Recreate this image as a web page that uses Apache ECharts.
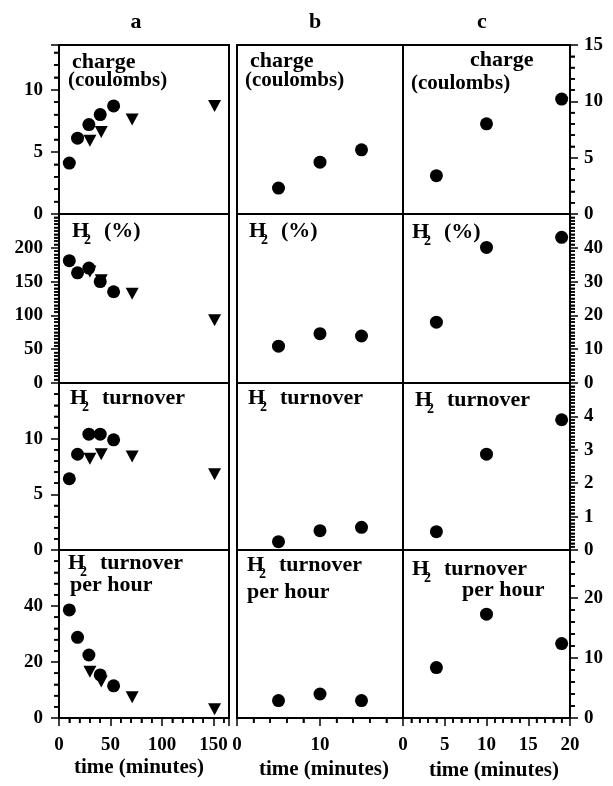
<!DOCTYPE html>
<html>
<head>
<meta charset="utf-8">
<script src="https://cdn.jsdelivr.net/npm/echarts@6/dist/echarts.min.js"></script>
<style>
  html, body { margin: 0; background: #fff; }
  #chart { width: 613px; height: 786px; }
</style>
</head>
<body>
<div id="chart"></div>
<script>
// times (minutes)
const timeACircle = [10, 18, 29, 40, 53];
const timeATriangle = [30, 41, 71, 151];
const timeB = [5, 10, 15];
const timeC = [4, 10, 19];

// column a
const chargeACircle = [4.1, 6.1, 7.2, 8.0, 8.7];
const chargeATriangle = [5.9, 6.6, 7.6, 8.7];
const h2PctACircle = [181, 163, 170, 150, 135];
const h2PctATriangle = [165, 152, 132, 93];
const turnoverACircle = [6.4, 8.6, 10.4, 10.4, 9.9];
const turnoverATriangle = [8.2, 8.6, 8.4, 6.8];
const perHourACircle = [38.6, 28.8, 22.5, 15.4, 11.5];
const perHourATriangle = [16.5, 13.0, 7.4, 3.1];

// column b
const chargeB = [2.3, 4.6, 5.7];
const h2PctB = [10.9, 14.6, 13.9];
const turnoverB = [0.25, 0.58, 0.68];
const perHourB = [2.9, 4.0, 2.9];

// column c
const chargeC = [3.4, 8.0, 10.2];
const h2PctC = [18, 40.1, 43.1];
const turnoverC = [0.55, 2.87, 3.9];
const perHourC = [8.4, 17.3, 12.4];

// axis ranges: y per row (a = left axis, c = right axis, b shares c), x per column
const yMaxA = [13.6, 250, 15, 60];
const yStepA = [5, 50, 5, 20];
const yMinorA = [5, 10, 5, 5];
const yMaxC = [15, 50, 5, 28];
const yStepC = [5, 10, 1, 10];
const yMinorC = [5, 10, 10, 5];
const xMax = [165, 20, 20];
const xStep = [50, 10, 5];
const xMinor = [5, 5, 5];
const colNames = ['a', 'b', 'c'];

const FONT = "'Liberation Serif', 'Times New Roman', serif";
const rowTop = [45, 214, 383, 550];
const rowBottom = 718;
const colLeft = [59, 237, 403];
const colRight = [229, 403, 570];

const chart = echarts.init(document.getElementById('chart'));

const grids = [];
const xAxes = [];
const yAxes = [];
const series = [];

function pts(xs, ys) {
  return xs.map((x, i) => [x, ys[i]]);
}

const circleData = [
  [pts(timeACircle, chargeACircle), pts(timeB, chargeB), pts(timeC, chargeC)],
  [pts(timeACircle, h2PctACircle), pts(timeB, h2PctB), pts(timeC, h2PctC)],
  [pts(timeACircle, turnoverACircle), pts(timeB, turnoverB), pts(timeC, turnoverC)],
  [pts(timeACircle, perHourACircle), pts(timeB, perHourB), pts(timeC, perHourC)]
];
const triangleData = [
  pts(timeATriangle, chargeATriangle),
  pts(timeATriangle, h2PctATriangle),
  pts(timeATriangle, turnoverATriangle),
  pts(timeATriangle, perHourATriangle)
];

function ticks(show, length) {
  return { show: show, length: length, lineStyle: { color: '#000', width: 1.5 } };
}
function minor(show, split) {
  return { show: show, splitNumber: split, length: 5, lineStyle: { color: '#000', width: 1.5 } };
}
function labels(show, margin, showMax) {
  return {
    show: show, margin: margin, showMaxLabel: showMax,
    color: '#000', fontFamily: FONT, fontWeight: 'bold', fontSize: 19
  };
}

// minor tick values between the major ones, up to the axis max
function minorValues(max, major, count) {
  const step = major / count;
  const out = [];
  for (let i = 1; i * step < max - 1e-9; i++) {
    if (i % count !== 0) out.push(+(i * step).toFixed(6));
  }
  return out;
}

// backup for the minor ticks: small bars sitting on the axis edge
function minorTickSeries(idx, data, side) {
  const vertical = side === 'bottom';
  return {
    type: 'scatter',
    xAxisIndex: idx,
    yAxisIndex: idx,
    silent: true,
    clip: false,
    z: 5,
    symbol: 'rect',
    symbolSize: vertical ? [1.5, 5] : [5, 1.5],
    symbolOffset: vertical ? [0, 2.5] : [side === 'left' ? -2.5 : 2.5, 0],
    itemStyle: { color: '#000', opacity: 1 },
    data: data
  };
}

for (let r = 0; r < 4; r++) {
  const bottom = r === 3;
  const top = rowTop[r];
  const h = (r < 3 ? rowTop[r + 1] : rowBottom) - top;
  for (let c = 0; c < 3; c++) {
    const idx = r * 3 + c;
    const isA = c === 0;
    const showY = c !== 1;
    const yMax = isA ? yMaxA[r] : yMaxC[r];
    const yStep = isA ? yStepA[r] : yStepC[r];
    const yMinor = isA ? yMinorA[r] : yMinorC[r];
    grids.push({
      left: colLeft[c],
      top: top,
      width: colRight[c] - colLeft[c],
      height: h,
      show: true,
      borderColor: '#000',
      borderWidth: 2
    });
    xAxes.push({
      type: 'value',
      gridIndex: idx,
      min: 0,
      max: xMax[c],
      interval: xStep[c],
      axisLine: { show: false, onZero: false },
      splitLine: { show: false },
      axisTick: ticks(bottom, 8),
      minorTick: minor(bottom, xMinor[c]),
      axisLabel: labels(bottom, 18, c === 2)
    });
    yAxes.push({
      type: 'value',
      gridIndex: idx,
      position: c === 2 ? 'right' : 'left',
      min: 0,
      max: yMax,
      interval: yStep,
      axisLine: { show: false, onZero: false },
      splitLine: { show: false },
      axisTick: ticks(showY, 8),
      minorTick: minor(showY, yMinor),
      axisLabel: labels(showY, isA ? 16 : 14, c === 2 && r === 0)
    });
    series.push({
      type: 'scatter',
      xAxisIndex: idx,
      yAxisIndex: idx,
      symbol: 'circle',
      symbolSize: 13,
      clip: false,
      itemStyle: { color: '#000', opacity: 1 },
      data: circleData[r][c]
    });
    if (isA) {
      series.push({
        type: 'scatter',
        xAxisIndex: idx,
        yAxisIndex: idx,
        symbol: 'triangle',
        symbolSize: [13, 12],
        symbolRotate: 180,
        clip: false,
        itemStyle: { color: '#000', opacity: 1 },
        data: triangleData[r]
      });
    }
    if (showY) {
      const edge = isA ? 0 : xMax[c];
      const yVals = minorValues(yMax, yStep, yMinor);
      series.push(minorTickSeries(idx, yVals.map(v => [edge, v]), isA ? 'left' : 'right'));
    }
    if (bottom) {
      const xVals = minorValues(xMax[c], xStep[c], xMinor[c]);
      series.push(minorTickSeries(idx, xVals.map(v => [v, 0]), 'bottom'));
    }
  }
}

function txt(x, y, s, size, align) {
  return {
    type: 'text',
    x: x,
    y: y,
    style: {
      text: s,
      fill: '#000',
      font: 'bold ' + size + 'px ' + FONT,
      align: align || 'left',
      verticalAlign: 'middle'
    }
  };
}

// H with subscript 2 followed by the rest of the label
function h2(x, y, rest) {
  return [txt(x, y, 'H', 22), txt(x + 12, y + 9, '2', 14), txt(x + 32, y, rest, 22)];
}

const graphics = [
  txt(136, 22, colNames[0], 22, 'center'),
  txt(315, 22, colNames[1], 22, 'center'),
  txt(482, 22, colNames[2], 22, 'center'),

  txt(72, 62, 'charge', 22), txt(68, 81, '(coulombs)', 21),
  txt(250, 61, 'charge', 22), txt(245, 81, '(coulombs)', 21),
  txt(470, 60, 'charge', 22), txt(411, 84, '(coulombs)', 21),

  ...h2(72, 231, '(%)'),
  ...h2(249, 231, '(%)'),
  ...h2(412, 232, '(%)'),

  ...h2(70, 398, 'turnover'),
  ...h2(248, 398, 'turnover'),
  ...h2(415, 400, 'turnover'),

  ...h2(68, 563, 'turnover'), txt(70, 585, 'per hour', 22),
  ...h2(247, 565, 'turnover'), txt(247, 592, 'per hour', 22),
  ...h2(412, 569, 'turnover'), txt(462, 590, 'per hour', 22),

  txt(139, 768, 'time (minutes)', 21, 'center'),
  txt(324, 770, 'time (minutes)', 21, 'center'),
  txt(494, 771, 'time (minutes)', 21, 'center')
];

chart.setOption({
  backgroundColor: '#fff',
  animation: false,
  grid: grids,
  xAxis: xAxes,
  yAxis: yAxes,
  series: series,
  graphic: graphics
});
</script>
</body>
</html>
